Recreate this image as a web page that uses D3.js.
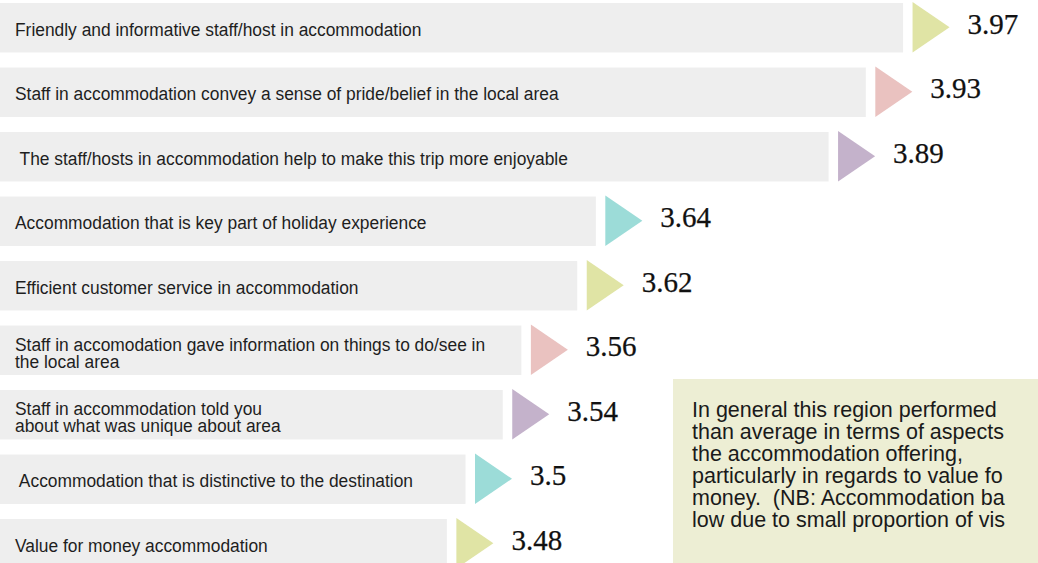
<!DOCTYPE html>
<html>
<head>
<meta charset="utf-8">
<script src="https://cdn.jsdelivr.net/npm/d3@7/dist/d3.min.js"></script>
<style>
  html, body { margin: 0; padding: 0; background: #ffffff; }
  svg { display: block; }
  .cat { font-family: "Liberation Sans", Arial, sans-serif; font-size: 19px; fill: #1e1e1e; white-space: pre; }
  .val { font-family: "Liberation Serif", "Times New Roman", serif; font-size: 29px; fill: #111111; stroke: #111111; stroke-width: 0.25px; }
  .note { font-family: "Liberation Sans", Arial, sans-serif; font-size: 21.5px; fill: #1a1a1a; white-space: pre; }
</style>
</head>
<body>
<svg id="chart" width="1038" height="563"></svg>
<script>
// ---- data ----
const categories = [
  "Friendly and informative staff/host in accommodation",
  "Staff in accommodation convey a sense of pride/belief in the local area",
  " The staff/hosts in accommodation help to make this trip more enjoyable",
  "Accommodation that is key part of holiday experience",
  "Efficient customer service in accommodation",
  "Staff in accomodation gave information on things to do/see in\nthe local area",
  "Staff in accommodation told you\nabout what was unique about area",
  " Accommodation that is distinctive to the destination",
  "Value for money accommodation"
];
const values = [3.97, 3.93, 3.89, 3.64, 3.62, 3.56, 3.54, 3.5, 3.48];
const valueLabels = ["3.97", "3.93", "3.89", "3.64", "3.62", "3.56", "3.54", "3.5", "3.48"];
const markerColors = ["#e0e4a5", "#eac2c0", "#c4b2cb", "#9cdcd8"];
const noteLines = [
  "In general this region performed",
  "than average in terms of aspects",
  "the accommodation offering,",
  "particularly in regards to value fo",
  "money.  (NB: Accommodation ba",
  "low due to small proportion of vis"
];

// ---- layout ----
const W = 1038, H = 563;
const svg = d3.select("#chart");

const x = d3.scaleLinear().domain([3, 4]).range([0, 931]);
const y = d3.scaleBand().domain(categories).range([3, 568.5]).paddingInner(0.233).paddingOuter(0);
const color = d3.scaleOrdinal().domain(d3.range(4)).range(markerColors);

const rows = categories.map((c, i) => ({ cat: c, v: values[i], label: valueLabels[i], i }));

const g = svg.append("g");

// bars
g.selectAll("rect.bar").data(rows).join("rect")
  .attr("class", "bar")
  .attr("x", 0)
  .attr("y", d => y(d.cat))
  .attr("width", d => x(d.v))
  .attr("height", y.bandwidth())
  .attr("fill", "#eeeeee");

// category labels (condensed sans, like Arial Narrow)
const condense = 0.915;
g.selectAll("text.cat").data(rows).join("text")
  .attr("class", "cat")
  .attr("transform", d => `translate(15,${y(d.cat) + y.bandwidth() / 2}) scale(${condense},1)`)
  .each(function(d) {
    const lines = d.cat.split("\n");
    const t = d3.select(this);
    if (lines.length === 1) {
      t.append("tspan").attr("x", 0).attr("dy", 8).text(lines[0]);
    } else {
      lines.forEach((ln, k) => {
        t.append("tspan").attr("x", 0).attr("dy", k === 0 ? 0.5 : 16.8).text(ln);
      });
    }
  });

// triangle markers
const triGap = 9.5, triW = 37;
g.selectAll("path.tri").data(rows).join("path")
  .attr("class", "tri")
  .attr("fill", d => color(d.i % 4))
  .attr("d", d => {
    const x0 = x(d.v) + triGap, x1 = x0 + triW;
    const top = y(d.cat) - 1, bot = y(d.cat) + y.bandwidth();
    const mid = (top + bot) / 2;
    return `M${x0},${top}L${x1},${mid}L${x0},${bot}Z`;
  });

// value labels
g.selectAll("text.val").data(rows).join("text")
  .attr("class", "val")
  .attr("x", d => x(d.v) + triGap + triW + 18)
  .attr("y", d => y(d.cat) + y.bandwidth() / 2 + 6)
  .text(d => d.label);

// note box (cut by the right edge, as in the original)
svg.append("clipPath").attr("id", "noteClip")
  .append("rect").attr("x", 673).attr("y", 379).attr("width", W - 673).attr("height", H - 379);
const note = svg.append("g").attr("clip-path", "url(#noteClip)");
note.append("rect")
  .attr("x", 673).attr("y", 379)
  .attr("width", W - 673).attr("height", H - 379)
  .attr("fill", "#edeed4");
note.selectAll("text.note").data(noteLines).join("text")
  .attr("class", "note")
  .attr("x", 692)
  .attr("y", (d, i) => 416.5 + i * 22)
  .text(d => d);
</script>
</body>
</html>
